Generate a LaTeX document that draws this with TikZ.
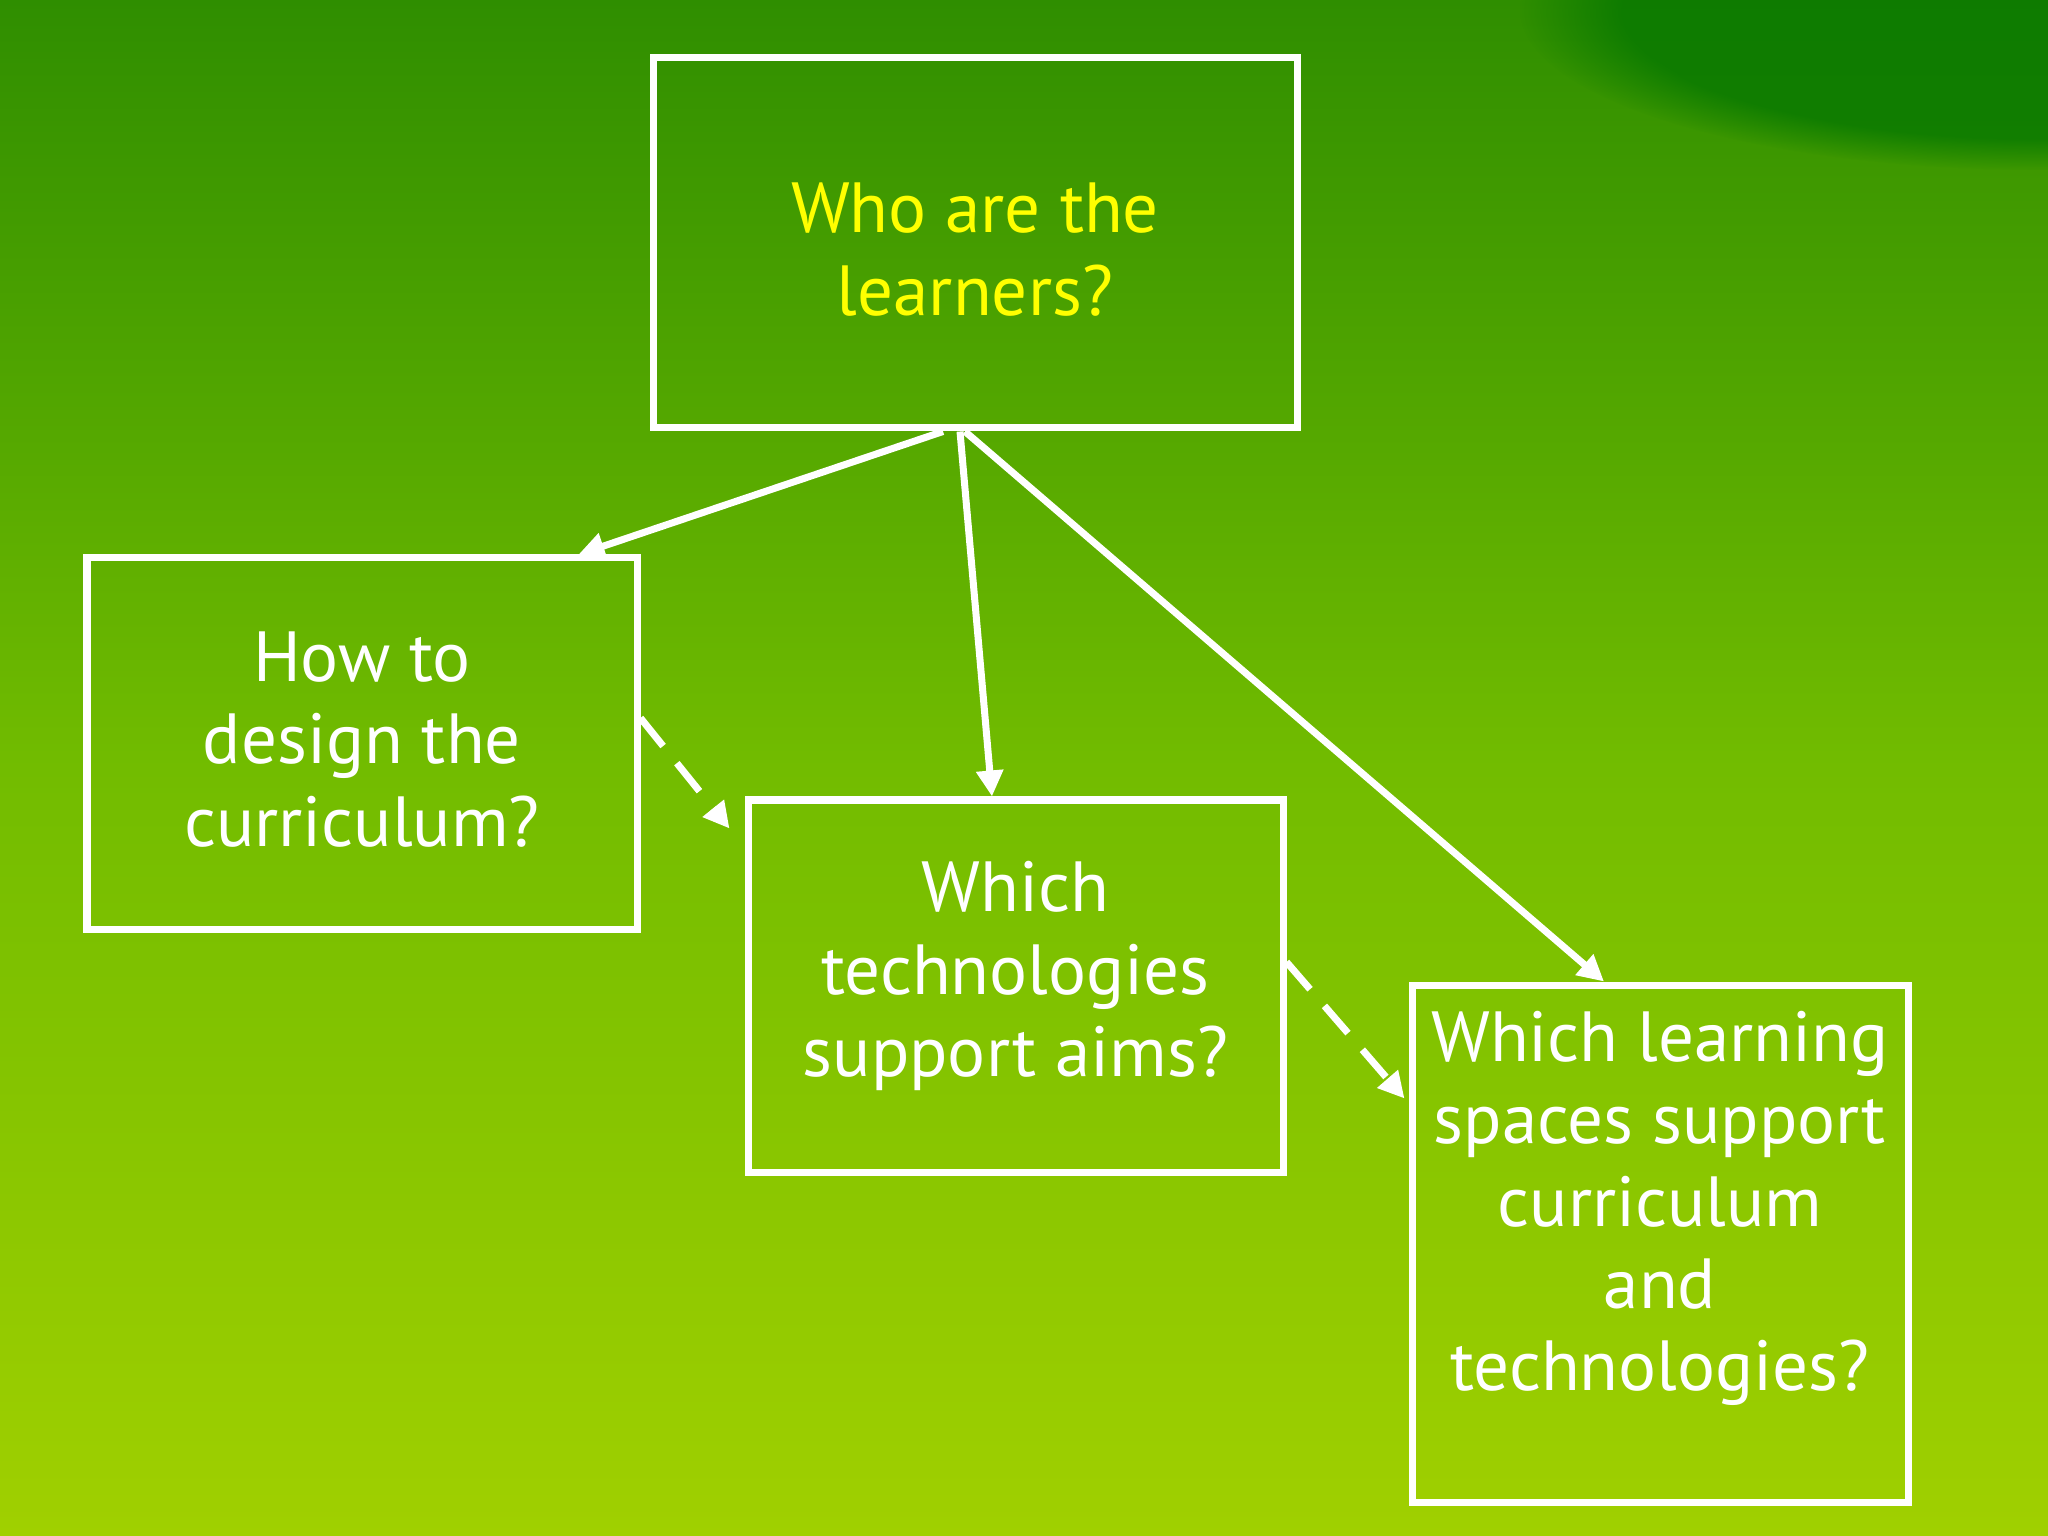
\documentclass[tikz,border=0pt]{standalone}
\usepackage{fontspec}
\setmainfont{PT Sans}
\usepackage{tikz}
\usetikzlibrary{arrows.meta,fadings}

\definecolor{bgtop}{HTML}{2F8E00}
\definecolor{bgmid}{HTML}{72BC00}
\definecolor{bgbot}{HTML}{A0D000}
\definecolor{bgdark}{HTML}{007400}
\definecolor{askyellow}{HTML}{FFFF00}

\begin{document}
\begin{tikzpicture}[>={Triangle[length=0.26cm,width=0.26cm]},line width=0.07cm,
white]
\tikzstyle{every node}=[font=\fontsize{20.2pt}{23.4pt}\selectfont,align=center]
\tikzstyle{question}=[draw=white,inner sep=0pt]
\tikzstyle{words}=[text=white,inner sep=0pt]
\tikzstyle{link}=[->,draw=white]
\tikzstyle{maybe}=[->,draw=white,dash pattern=on 0.36cm off 0.22cm]
% background
\useasboundingbox (0,0) rectangle (20.48,-15.36);
\shade[top color=bgtop,bottom color=bgbot,middle color=bgmid] (0,0) rectangle (20.48,-15.36);
\fill[bgdark,path fading=circle with fuzzy edge 20 percent,fill opacity=0.7] (20.4,-0.1) ellipse (5.2cm and 1.6cm);
% boxes
\node[question,minimum width=6.44cm,minimum height=3.70cm] (who) at (9.75,-2.43) {};
\node[question,minimum width=5.50cm,minimum height=3.71cm] (design) at (3.62,-7.435) {};
\node[question,minimum width=5.35cm,minimum height=3.72cm] (tech) at (10.155,-9.86) {};
\node[question,minimum width=4.96cm,minimum height=5.17cm] (spaces) at (16.60,-12.435) {};
% texts
\node[words,text=askyellow] (whotext) at ([yshift=-0.065cm]who.center) {Who are the\\learners?};
\node[words] (designtext) at ([yshift=0.04cm]design.center) {How to\\design the\\curriculum?};
\node[words] (techtext) at ([yshift=0.10cm]tech.center) {Which\\technologies\\support aims?};
\node[words] (spacestext) at ([yshift=-2.27cm]spaces.north) {Which learning\\spaces support\\curriculum\\and\\technologies?};
% connectors
\path ([xshift=-0.32cm]who.south) edge[link] ([xshift=-0.62cm]design.north east)
      ([xshift=-0.15cm]who.south) edge[link] ([xshift=-0.235cm]tech.north)
      ([xshift=-0.10cm]who.south) edge[link] ([xshift=-0.56cm]spaces.north)
      ([yshift=0.255cm]design.east) edge[maybe] ([xshift=-0.15cm,yshift=-0.32cm]tech.north west)
      ([yshift=0.24cm]tech.east) edge[maybe] ([xshift=-0.04cm,yshift=-1.17cm]spaces.north west);
\end{tikzpicture}
\end{document}
